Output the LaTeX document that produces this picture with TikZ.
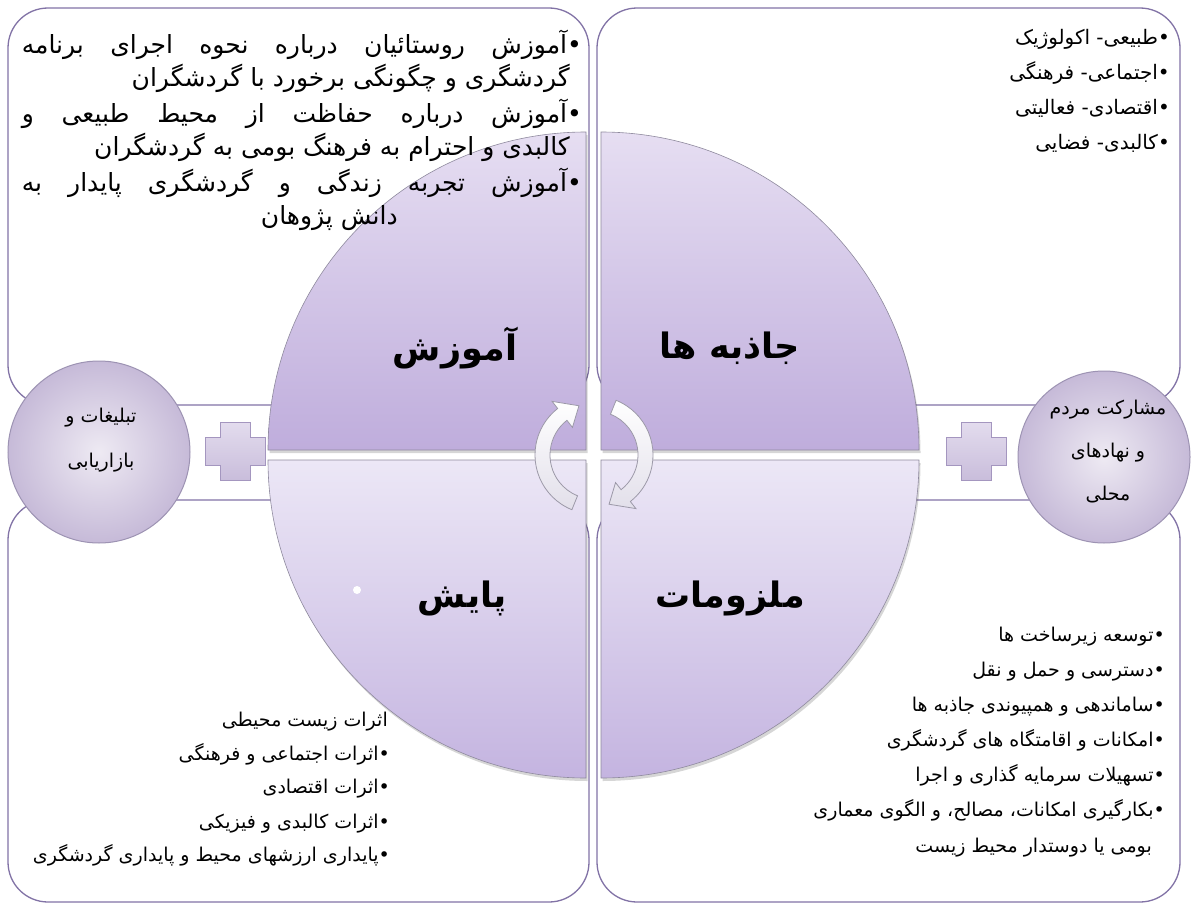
\documentclass[tikz,border=0pt]{standalone}
\usepackage{fontspec}
\newfontfamily\fa[Script=Arabic]{DejaVu Sans}
\TeXXeTstate=1
\hbadness=10000
\definecolor{boxline}{HTML}{8273A6}
\definecolor{quadline}{HTML}{8F8A9E}
\definecolor{qtop}{HTML}{E6DEF2}
\definecolor{qbot}{HTML}{BFADDC}
\definecolor{qltop}{HTML}{ECE7F6}
\definecolor{qlbot}{HTML}{C4B4E0}
\definecolor{circline}{HTML}{9D93B3}
\definecolor{circin}{HTML}{EEEAF3}
\definecolor{circout}{HTML}{C6BAD8}
\definecolor{plusline}{HTML}{A496BF}
\definecolor{plustop}{HTML}{E3DCEE}
\definecolor{plusbot}{HTML}{C9BDDB}
\definecolor{arrowline}{HTML}{9C99A8}
\definecolor{arrowfill}{HTML}{E2DFEA}
\tikzset{
  boxframe/.style={draw=boxline, line width=1.3pt, rounded corners=40pt, fill=white},
  bodytext/.style={font=\fa\fontsize{19}{22}\selectfont, inner sep=0pt, anchor=base east},
  bigbody/.style={font=\fa\fontsize{25}{28}\selectfont, inner sep=0pt, anchor=base east},
  trbody/.style={font=\fa\fontsize{20}{22}\selectfont, inner sep=0pt, anchor=base east},
  mainlabel/.style={font=\fa\bfseries\fontsize{35}{40}\selectfont, inner sep=0pt},
  ctext/.style={font=\fa\fontsize{19}{22}\selectfont, inner sep=0pt},
  quadshape/.style={draw=quadline, line width=0.6pt},
  quadshadow/.style={fill=black, opacity=0.16},
  circshape/.style={draw=circline, line width=1pt, inner color=circin, outer color=circout},
  plusshape/.style={draw=plusline, line width=0.8pt, top color=plustop, bottom color=plusbot},
  arrowshape/.style={draw=arrowline, line width=0.8pt, top color=white, bottom color=arrowfill},
}
\begin{document}
\begin{tikzpicture}[x=1pt,y=1pt]
\useasboundingbox (0,0) rectangle (1194,-907);
\fill[white] (0,0) rectangle (1194,-907);
% boxes
\draw[boxframe] (8,-8) rectangle (589,-405);
\draw[boxframe] (597,-8) rectangle (1180,-405);
\draw[boxframe] (8,-500) rectangle (589,-902);
\draw[boxframe] (597,-500) rectangle (1180,-902);
% bottom-left text (behind the quadrant)
\node[bodytext] (bl1) at (388,-726) {\beginR اثرات زیست محیطی\endR};
\node[bodytext] (bl2) at (390,-760) {\beginR •اثرات اجتماعی و فرهنگی\endR};
\node[bodytext] (bl3) at (390,-793) {\beginR •اثرات اقتصادی\endR};
\node[bodytext] (bl4) at (390,-828) {\beginR •اثرات کالبدی و فیزیکی\endR};
\node[bodytext] (bl5) at (390,-861) {\beginR •پایداری ارزشهای محیط و پایداری گردشگری\endR};
% side circles
\shade[circshape] (99,-452) circle[radius=91];
\shade[circshape] (1104,-457) circle[radius=86];
% plus signs
\begin{scope}[shift={(235,-451)}]
\shade[plusshape] (-15,29) -- (15,29) -- (15,14) -- (30,14) -- (30,-14) -- (15,-14) -- (15,-29) -- (-15,-29) -- (-15,-14) -- (-30,-14) -- (-30,14) -- (-15,14) -- cycle;
\end{scope}
\begin{scope}[shift={(976,-451)}]
\shade[plusshape] (-15,29) -- (15,29) -- (15,14) -- (30,14) -- (30,-14) -- (15,-14) -- (15,-29) -- (-15,-29) -- (-15,-14) -- (-30,-14) -- (-30,14) -- (-15,14) -- cycle;
\end{scope}
% quadrant shadows
\fill[quadshadow, xshift=1.5pt, yshift=-3pt] (586,-450) -- (268,-450) arc[start angle=180,end angle=90,radius=318] -- cycle;
\fill[quadshadow, xshift=1.5pt, yshift=-3pt] (601,-450) -- (601,-132) arc[start angle=90,end angle=0,radius=318] -- cycle;
\fill[quadshadow, xshift=1.5pt, yshift=-3pt] (586,-460) -- (586,-778) arc[start angle=270,end angle=180,radius=318] -- cycle;
\fill[quadshadow, xshift=1.5pt, yshift=-3pt] (601,-460) -- (919,-460) arc[start angle=0,end angle=-90,radius=318] -- cycle;
% quadrants
\shade[quadshape, top color=qtop, bottom color=qbot] (586,-450) -- (268,-450) arc[start angle=180,end angle=90,radius=318] -- cycle;
\shade[quadshape, top color=qtop, bottom color=qbot] (601,-450) -- (601,-132) arc[start angle=90,end angle=0,radius=318] -- cycle;
\shade[quadshape, top color=qltop, bottom color=qlbot] (586,-460) -- (586,-778) arc[start angle=270,end angle=180,radius=318] -- cycle;
\shade[quadshape, top color=qltop, bottom color=qlbot] (601,-460) -- (919,-460) arc[start angle=0,end angle=-90,radius=318] -- cycle;
% white dot
\fill[white] (357,-590) circle[radius=4];
% cycle arrows
\begin{scope}[shift={(594,-455)}]
\shade[arrowshape] (248:59) arc[start angle=248,end angle=128,radius=59] -- (128:68) -- (107:51.5) -- (128:35) -- (128:44) arc[start angle=128,end angle=248,radius=44] -- cycle;
\shade[arrowshape] (68:59) arc[start angle=68,end angle=-52,radius=59] -- (-52:68) -- (-73:51.5) -- (-52:35) -- (-52:44) arc[start angle=-52,end angle=68,radius=44] -- cycle;
\end{scope}
% quadrant labels
\node[mainlabel] (amoozesh) at (455,-348) {\beginR آموزش\endR};
\node[mainlabel] (jazebe) at (730,-348) {\beginR جاذبه ها\endR};
\node[mainlabel] (payesh) at (462,-598) {\beginR پایش\endR};
\node[mainlabel] (malzumat) at (730,-598) {\beginR ملزومات\endR};
% circle texts
\node[ctext] (c1a) at (101,-418) {\beginR تبلیغات و\endR};
\node[ctext] (c1b) at (101,-463) {\beginR بازاریابی\endR};
\node[ctext] (c2a) at (1108,-410) {\beginR مشارکت مردم\endR};
\node[ctext] (c2b) at (1108,-453) {\beginR و نهادهای\endR};
\node[ctext] (c2c) at (1108,-495) {\beginR محلی\endR};
% top-left text (first lines justified)
\node[bigbody] (tl1) at (582,-54) {\hbox to 560pt{\beginR •آموزش روستائیان درباره نحوه اجرای برنامه\endR}};
\node[bigbody] (tl2) at (570,-87) {\beginR گردشگری و چگونگی برخورد با گردشگران\endR};
\node[bigbody] (tl3) at (582,-122) {\hbox to 560pt{\beginR •آموزش درباره حفاظت از محیط طبیعی و\endR}};
\node[bigbody] (tl4) at (570,-155) {\beginR کالبدی و احترام به فرهنگ بومی به گردشگران\endR};
\node[bigbody] (tl5) at (582,-191) {\hbox to 560pt{\beginR •آموزش تجربه زندگی و گردشگری پایدار به\endR}};
\node[bigbody] (tl6) at (398,-224) {\beginR دانش پژوهان\endR};
% top-right text
\node[trbody] (tr1) at (1170,-45) {\beginR •طبیعی- اکولوژیک\endR};
\node[trbody] (tr2) at (1170,-79) {\beginR •اجتماعی- فرهنگی\endR};
\node[trbody] (tr3) at (1170,-114) {\beginR •اقتصادی- فعالیتی\endR};
\node[trbody] (tr4) at (1170,-149) {\beginR •کالبدی- فضایی\endR};
% bottom-right text
\node[bodytext] (br1) at (1165,-641) {\beginR •توسعه زیرساخت ها\endR};
\node[bodytext] (br2) at (1165,-676) {\beginR •دسترسی و حمل و نقل\endR};
\node[bodytext] (br3) at (1165,-711) {\beginR •ساماندهی و همپیوندی جاذبه ها\endR};
\node[bodytext] (br4) at (1165,-746) {\beginR •امکانات و اقامتگاه های گردشگری\endR};
\node[bodytext] (br5) at (1165,-781) {\beginR •تسهیلات سرمایه گذاری و اجرا\endR};
\node[bodytext] (br6) at (1165,-816) {\beginR •بکارگیری امکانات، مصالح، و الگوی معماری\endR};
\node[bodytext] (br7) at (1152,-852) {\beginR بومی یا دوستدار محیط زیست\endR};
\end{tikzpicture}
\end{document}
